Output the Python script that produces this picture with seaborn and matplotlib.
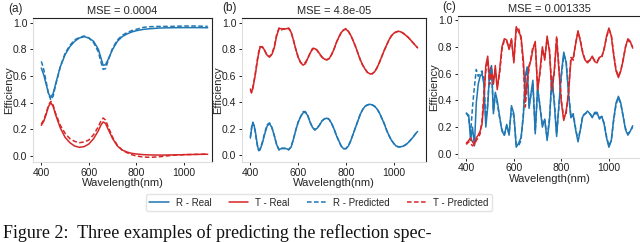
import matplotlib
matplotlib.use("Agg")
import matplotlib.pyplot as plt
import seaborn as sns
import numpy as np
import pandas as pd

sns.set_theme(style="ticks")
plt.rcParams['font.family'] = ['Liberation Sans', 'DejaVu Sans']

BLUE = '#1f77b4'
RED = '#d62728'

# ---------------- panel (a) ----------------
wl_a = [400, 410, 420, 430, 440, 450, 460, 480, 500, 520, 540, 560, 580, 600, 620, 640, 650, 660,
        670, 680, 700, 720, 740, 760, 780, 800, 830, 860, 900, 950, 1000, 1050, 1100]
r_real_a = [.66, .61, .54, .47, .44, .47, .54, .67, .76, .82, .86, .885, .895, .885, .86, .80, .74, .68,
            .685, .72, .80, .86, .895, .915, .93, .94, .95, .955, .96, .962, .963, .963, .962]
r_pred_a = [.71, .65, .56, .47, .42, .45, .53, .67, .77, .83, .87, .89, .90, .885, .85, .78, .71, .65,
            .655, .71, .81, .87, .905, .925, .94, .95, .965, .97, .972, .972, .975, .975, .972]
t_real_a = [.23, .26, .31, .37, .40, .37, .31, .21, .14, .10, .075, .065, .07, .09, .13, .19, .23, .255,
            .245, .205, .13, .075, .045, .03, .02, .015, .01, .008, .007, .008, .01, .012, .013]
t_pred_a = [.24, .27, .32, .38, .41, .38, .32, .23, .17, .13, .11, .10, .105, .12, .16, .22, .26, .285,
            .27, .225, .14, .08, .045, .025, .01, .0, -.008, -.01, -.005, .005, .01, .012, .015]

# ---------------- panel (b) ----------------
wl_b = [400, 405, 410, 415, 420, 425, 430, 435, 440] + list(range(450, 1101, 10))
r_real_b = [.13, .20, .245, .23, .19, .13, .07, .035, .04,
            .09, .16, .22, .24, .21, .15, .08, .045, .05, .055,       # 450-540
            .05, .045, .06, .12, .19, .25, .29, .32, .325, .30,        # 550-640
            .25, .21, .195, .205, .23, .26, .275, .28, .27, .24,       # 650-740
            .20, .15, .11, .07, .05, .05, .07, .11, .16, .21,          # 750-840
            .26, .31, .345, .37, .38, .385, .38, .37, .35, .32,        # 850-940
            .28, .24, .19, .15, .115, .09, .07, .065, .065, .07,       # 950-1040
            .08, .095, .115, .135, .16, .18]                           # 1050-1100
r_pred_b = [.14, .21, .25, .22, .18, .12, .07, .04, .045,
            .10, .17, .23, .245, .21, .15, .08, .04, .055, .05,
            .055, .04, .065, .12, .19, .25, .29, .33, .33, .30,
            .25, .21, .19, .21, .23, .26, .275, .285, .27, .24,
            .20, .15, .11, .07, .05, .052, .07, .11, .16, .21,
            .26, .31, .345, .37, .38, .385, .38, .37, .35, .32,
            .28, .24, .19, .15, .115, .09, .07, .063, .065, .07,
            .08, .095, .115, .135, .16, .18]
t_real_b = [.50, .48, .50, .55, .60, .66, .72, .77, .81,
            .82, .79, .755, .74, .76, .81, .90, .955, .955, .95,       # 450-540
            .955, .955, .93, .87, .80, .74, .70, .68, .69, .73,        # 550-640
            .77, .80, .805, .79, .765, .74, .725, .72, .73, .76,       # 650-740
            .80, .85, .89, .925, .945, .95, .935, .905, .865, .82,     # 750-840
            .77, .72, .68, .65, .625, .615, .615, .63, .66, .70,       # 850-940
            .745, .79, .83, .87, .90, .92, .93, .935, .93, .92,        # 950-1040
            .905, .89, .87, .85, .83, .81]                             # 1050-1100
t_pred_b = [.49, .47, .51, .56, .61, .67, .73, .78, .82,
            .815, .79, .75, .745, .765, .82, .91, .96, .945, .955,
            .95, .96, .935, .87, .80, .74, .70, .69, .70, .73,
            .77, .805, .81, .79, .76, .74, .725, .72, .73, .76,
            .80, .85, .89, .925, .945, .955, .935, .905, .865, .82,
            .77, .72, .68, .65, .625, .615, .615, .63, .66, .70,
            .745, .79, .83, .87, .90, .92, .93, .935, .93, .92,
            .905, .89, .87, .85, .83, .81]

# ---------------- panel (c) ----------------
wl_c = ([400, 410, 418, 426, 434, 442, 450, 458, 466, 474]
        + [482, 490, 498, 506, 514, 522, 530]
        + list(range(540, 641, 10))
        + [648, 656, 664, 672, 680]
        + list(range(690, 1101, 10)))
t_real_c = ([.08, .10, .12, .09, .07, .12, .14, .17, .22, .40]
            + [.66, .73, .55, .64, .52, .66, .48]
            + [.62, .80, .86, .85, .78, .86, .68, .95, .91, .88, .70]
            + [.42, .55, .66, .70, .78]
            + [.84, .47, .62, .80, .70, .88, .76, .46, .62, .86,
               .62, .38, .25, .32, .45, .70, .72, .82, .92, .84,
               .75, .70, .68, .70, .73, .69, .68, .72, .73, .78,
               .88, .94, .88, .74, .62, .57, .62, .70, .80, .86,
               .84, .79])
t_pred_c = ([.07, .09, .08, .06, .07, .10, .12, .15, .25, .45]
            + [.62, .70, .52, .60, .55, .63, .50]
            + [.60, .78, .85, .84, .79, .85, .70, .93, .94, .86, .66]
            + [.35, .52, .64, .72, .80]
            + [.82, .50, .60, .78, .72, .86, .78, .48, .60, .88,
               .64, .40, .27, .30, .47, .72, .70, .83, .91, .85,
               .76, .70, .69, .70, .72, .70, .69, .72, .72, .79,
               .87, .93, .89, .75, .63, .58, .62, .71, .80, .85,
               .83, .80])
r_real_c = ([.30, .29, .10, .20, .06, .38, .52, .58, .60, .52]
            + [.20, .35, .62, .66, .30, .46, .40]
            + [.28, .17, .14, .22, .14, .36, .30, .05, .08, .12, .28]
            + [.58, .65, .34, .45, .55]
            + [.15, .50, .35, .20, .26, .10, .25, .58, .38, .13,
               .38, .60, .76, .68, .45, .27, .29, .18, .09, .18,
               .28, .30, .32, .30, .27, .31, .31, .26, .28, .22,
               .12, .05, .10, .26, .38, .43, .38, .28, .18, .14,
               .17, .21])
r_pred_c = ([.31, .27, .15, .35, .50, .63, .58, .60, .62, .55]
            + [.25, .38, .60, .64, .32, .44, .38]
            + [.27, .18, .14, .21, .15, .34, .28, .07, .06, .10, .30]
            + [.55, .63, .36, .44, .52]
            + [.17, .48, .36, .22, .25, .12, .27, .55, .40, .15,
               .36, .58, .74, .70, .47, .28, .30, .19, .10, .19,
               .29, .30, .31, .30, .28, .30, .30, .27, .28, .23,
               .13, .06, .10, .25, .37, .42, .37, .28, .19, .15,
               .17, .20])

titles = ["MSE = 0.0004", "MSE = 4.8e-05", "MSE = 0.001335"]
panel_labels = ["(a)", "(b)", "(c)"]
legend_labels = ["R - Real", "T - Real", "R - Predicted", "T - Predicted"]

fig = plt.figure(figsize=(6.4, 2.42), dpi=100)
W, H = 640, 242

def ax_at(l, t, r, b):
    return fig.add_axes([l / W, 1 - b / H, (r - l) / W, (b - t) / H])

ax_a = ax_at(33, 18, 212, 162)
ax_b = ax_at(242, 18, 426, 162)
ax_c = ax_at(458, 16, 641, 157.5)

panels = [
    (ax_a, wl_a, r_real_a, t_real_a, r_pred_a, t_pred_a, (365, 1118), (-0.045, 1.035), 14.5),
    (ax_b, wl_b, r_real_b, t_real_b, r_pred_b, t_pred_b, (365, 1135), (-0.05, 1.035), 223.5),
    (ax_c, wl_c, r_real_c, t_real_c, r_pred_c, t_pred_c, (365, 1135), (-0.027, 1.03), 439),
]
ax_lefts = [33, 242, 458]
ax_widths = [179, 184, 183]

handles = None
for i, (ax, wl, rr, tr, rp, tp, xl, yl, ylx) in enumerate(panels):
    df = pd.DataFrame({"wl": wl, "rr": rr, "tr": tr, "rp": rp, "tp": tp})
    sns.lineplot(data=df, x="wl", y="rr", ax=ax, color=BLUE, lw=1.1, label=legend_labels[0])
    sns.lineplot(data=df, x="wl", y="tr", ax=ax, color=RED, lw=1.1, label=legend_labels[1])
    sns.lineplot(data=df, x="wl", y="rp", ax=ax, color=BLUE, lw=1.1, ls=(0, (3, 1.6)), label=legend_labels[2])
    sns.lineplot(data=df, x="wl", y="tp", ax=ax, color=RED, lw=1.1, ls=(0, (3, 1.6)), label=legend_labels[3])
    handles, labs = ax.get_legend_handles_labels()
    ax.get_legend().remove()
    ax.set_xlim(*xl)
    ax.set_ylim(*yl)
    ax.set_xticks([400, 600, 800, 1000])
    ax.set_yticks([0.0, 0.2, 0.4, 0.6, 0.8, 1.0])
    ax.set_yticklabels(["0.0", "0.2", "0.4", "0.6", "0.8", "1.0"])
    ax.tick_params(labelsize=7.5, length=2.5, width=0.7, pad=1.5, colors='#222222')
    ax.set_xlabel("Wavelength(nm)", fontsize=8, labelpad=0.5)
    ax.set_ylabel("Efficiency", fontsize=8)
    ax.yaxis.set_label_coords((ylx - ax_lefts[i]) / ax_widths[i], 0.5)
    ax.set_title(titles[i], fontsize=8, pad=3)
    for s in ['top', 'right']:
        ax.spines[s].set_color('#222222')
        ax.spines[s].set_linewidth(0.8)
    for s in ['left', 'bottom']:
        ax.spines[s].set_color('#dddddd')
        ax.spines[s].set_linewidth(0.8)

fig.text(8 / W, 1 - 9 / H, "(a)", fontsize=8.5, va='center', ha='left')
fig.text(222 / W, 1 - 8 / H, "(b)", fontsize=8.5, va='center', ha='left')
fig.text(442 / W, 1 - 7 / H, "(c)", fontsize=8.5, va='center', ha='left')

fig.legend(handles, legend_labels, loc='center', bbox_to_anchor=(319 / W, 1 - 202.5 / H),
           ncol=4, fontsize=7, frameon=True, edgecolor='#dddddd', fancybox=True,
           handlelength=2.0, columnspacing=1.8, handletextpad=0.7, borderpad=0.35)

fig.text(3 / W, 1 - 238 / H, "Figure 2:  Three examples of predicting the reflection spec-",
         family=['Liberation Serif', 'DejaVu Serif'], fontsize=13, va='baseline', ha='left',
         color='#111111')

fig.savefig("out.png", dpi=100)
